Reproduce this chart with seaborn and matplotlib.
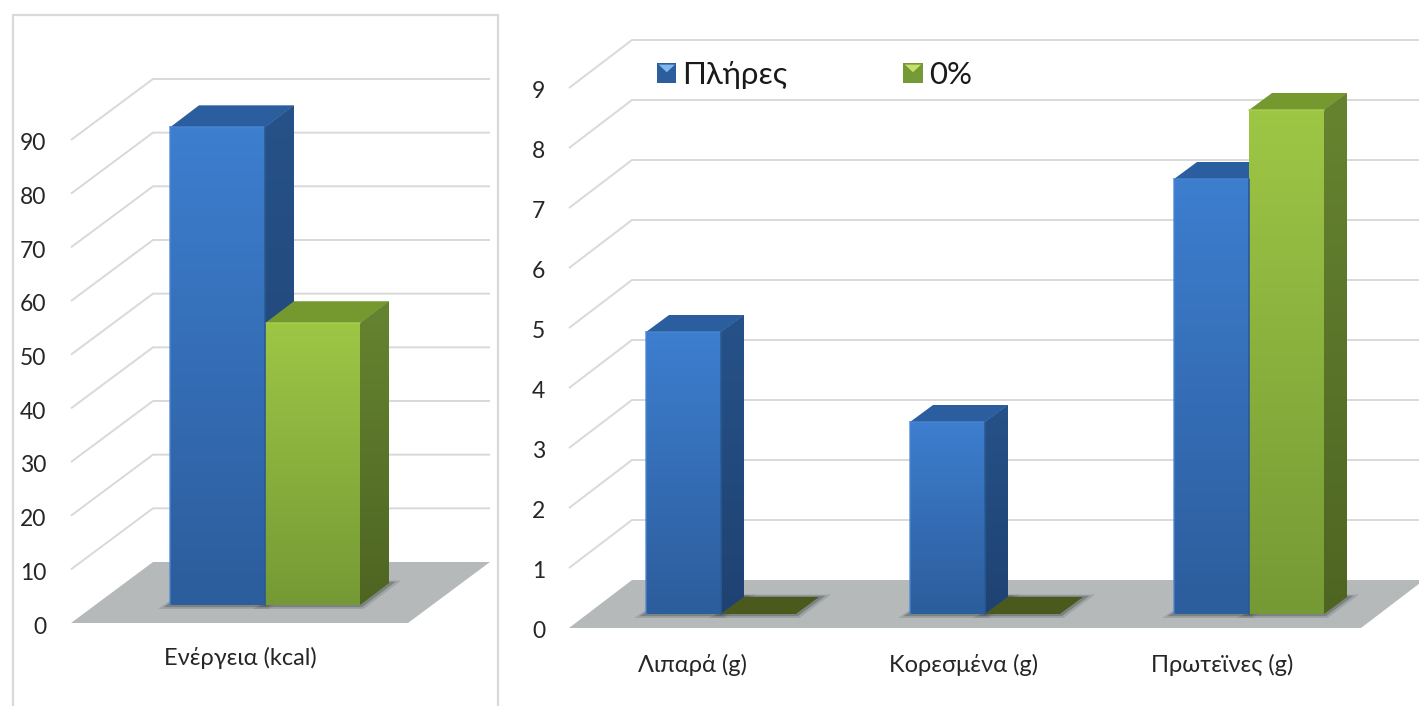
import numpy as np
import pandas as pd
import matplotlib
matplotlib.use("Agg")
import matplotlib.pyplot as plt
from matplotlib.colors import LinearSegmentedColormap
from matplotlib.legend_handler import HandlerPatch
from matplotlib.lines import Line2D
from matplotlib.patches import Patch, Polygon
import seaborn as sns

# Nutrition values per serving, full-fat milk against 0% fat
series_names = ["Πλήρες", "0%"]
energy_categories = ["Ενέργεια (kcal)"]
energy_full = [89.0]
energy_zero = [52.5]
energy_ticks = [0, 10, 20, 30, 40, 50, 60, 70, 80, 90]
nutrient_categories = ["Λιπαρά (g)", "Κορεσμένα (g)", "Πρωτεϊνες (g)"]
nutrient_full = [4.7, 3.2, 7.25]
nutrient_zero = [0.0, 0.0, 8.4]
nutrient_ticks = [0, 1, 2, 3, 4, 5, 6, 7, 8, 9]

W, H = 1419, 706
GRID = "#d9d9d9"
FLOOR = "#b5b9ba"
TEXT = "#262626"
FONT = ["Lato", "Open Sans", "DejaVu Sans"]

# Shades per series: front top/bottom, side top/bottom, top cap, edge
SHADES = {
    "Πλήρες": dict(base="#3672ba", front=("#3d7ecf", "#2c5d9c"), side=("#265289", "#1f4272"),
                   cap="#2b5e9e", edge="#4a86d2"),
    "0%": dict(base="#88ad3d", front=("#9ec645", "#759a35"), side=("#668430", "#4e6522"),
               cap="#76992f", edge="#abd052"),
}

sns.set_theme(style="white")
plt.rcParams["font.family"] = FONT
fig = plt.figure(figsize=(W / 100, H / 100), dpi=100, facecolor="white")


def gradient(ax, clip, colors, x0, x1, y0, y1, z):
    """Fill a patch with a vertical two-colour ramp, first colour at the top."""
    cmap = LinearSegmentedColormap.from_list("ramp", colors)
    img = ax.imshow(np.linspace(0, 1, 128)[:, None], cmap=cmap, aspect="auto",
                    extent=(x0, x1, y0, y1), origin="upper", zorder=z, interpolation="bilinear")
    img.set_clip_path(clip)


def panel(box, categories, full, zero, ticks, width, origin, spacing, base, unit, depth, floor, tick_px, label_shifts, label_pad):
    left, top, right, bottom = box
    ax = fig.add_axes([left / W, 1 - bottom / H, (right - left) / W, (bottom - top) / H])
    frame = pd.DataFrame({
        "category": list(categories) * 2,
        "value": list(full) + list(zero),
        "series": [series_names[0]] * len(categories) + [series_names[1]] * len(categories),
    })
    sns.barplot(data=frame, x="category", y="value", hue="series", ax=ax, width=width, gap=0,
                saturation=1, legend=False,
                palette={name: SHADES[name]["base"] for name in series_names})

    xlim = ((left - origin) / spacing, (right - origin) / spacing)
    ylim = ((base - bottom) / unit, (base - top) / unit)
    dx, dy = depth[0] / spacing, depth[1] / unit

    # Floor and wall grid sit behind the bars
    fx0, fx1, bx0, bx1, front_px, back_px = floor
    to_x = lambda px: (px - origin) / spacing
    front_v, back_v = -(front_px - base) / unit, (base - back_px) / unit
    ax.add_patch(Polygon([(to_x(fx0), front_v), (to_x(fx1), front_v), (to_x(bx1), back_v), (to_x(bx0), back_v)],
                         closed=True, fc=FLOOR, ec="none", zorder=1))
    for v in ticks[1:]:
        ax.plot([to_x(fx0), to_x(bx0), to_x(bx1)], [v + front_v, v + back_v, v + back_v],
                color=GRID, lw=1.4, zorder=1.5, solid_capstyle="butt", clip_on=True)

    for s, (name, bars) in enumerate(zip(series_names, ax.containers)):
        shade = SHADES[name]
        for bar in bars:
            x0, w, h = bar.get_x(), bar.get_width(), bar.get_height()
            x1 = x0 + w
            z = 3 + s * 2 + x0 * 0.01
            # Soft contact shadow around the footprint
            for grow, alpha in ((1.0, 0.2), (0.55, 0.4)):
                gx, gy = grow * 12 / spacing, grow * 4 / unit
                ax.add_patch(Polygon([(x0 - gx, -gy), (x1 + gx * 0.3, -gy), (x1 + dx + gx, dy + gy * 0.6), (x0 + dx, dy + gy * 0.6)],
                                     closed=True, fc="#4b5052", ec="none", alpha=alpha, zorder=2))
            cap = Polygon([(x0, h), (x1, h), (x1 + dx, h + dy), (x0 + dx, h + dy)], closed=True,
                          fc=shade["cap"] if h > 0 else "#4a5a1c", ec="none", zorder=z)
            ax.add_patch(cap)
            if h > 0:
                side = Polygon([(x1, 0), (x1 + dx, dy), (x1 + dx, h + dy), (x1, h)], closed=True,
                               fc=shade["side"][0], ec="none", zorder=z)
                ax.add_patch(side)
                gradient(ax, side, shade["side"], x1, x1 + dx, 0, h + dy, z + 0.01)
                bar.set_zorder(z + 0.02)
                bar.set_edgecolor("none")
                gradient(ax, bar, shade["front"], x0, x1, 0, h, z + 0.03)
                # Thin highlight along the bevelled top of the front face
                ax.plot([x0, x1], [h, h], color=shade["edge"], lw=1.2, zorder=z + 0.04, alpha=0.8)
                if s == 0:
                    ax.plot([x0, x0], [0, h], color=shade["edge"], lw=1.2, zorder=z + 0.04, alpha=0.8)
                    # Darker seam where the first series meets its neighbour
                    ax.plot([x1, x1], [0, h], color="#2a5a94", lw=1.2, zorder=9)
            else:
                bar.set_visible(False)

    ax.set_xlim(xlim)
    ax.set_ylim(ylim)
    ax.set_xlabel("")
    ax.set_ylabel("")
    for spine in ax.spines.values():
        spine.set_visible(False)
    ax.patch.set_alpha(0)

    # Value labels follow the front edge of the floor, category labels its centre line
    ax.set_yticks([v - (tick_px - base) / unit for v in ticks], labels=[str(v) for v in ticks])
    ax.set_xticks([i + shift / spacing for i, shift in enumerate(label_shifts)], labels=categories)
    ax.tick_params(axis="y", length=0, pad=4, labelsize=16.5, labelcolor=TEXT)
    ax.tick_params(axis="x", length=0, pad=label_pad, labelsize=17, labelcolor=TEXT)
    ax.grid(False)
    return ax


panel((52, 15, 497, 640), energy_categories, energy_full, energy_zero, energy_ticks,
      width=0.8, origin=265, spacing=237.5, base=605, unit=5.367, depth=(29, 22),
      floor=(71, 408, 153, 490, 623, 562), tick_px=625, label_shifts=[-25], label_pad=5)

right_ax = panel((551, 0, W, 650), nutrient_categories, nutrient_full, nutrient_zero, nutrient_ticks,
                 width=0.568, origin=721, spacing=264, base=614, unit=60, depth=(23, 17),
                 floor=(569, 1361, 632, 1424, 628, 580), tick_px=629.5, label_shifts=[-28, -21, -27], label_pad=3)


class BevelHandler(HandlerPatch):
    """Legend key shaped like a small bevelled tile."""

    def create_artists(self, legend, orig, xd, yd, width, height, fontsize, trans):
        shade = SHADES[orig.get_label()]
        x0, y0 = -xd, -yd
        x1, y1 = x0 + width, y0 + height
        cx, cy = (x0 + x1) / 2, y0 + height * 0.55
        tile = Polygon([(x0, y0), (x1, y0), (x1, y1), (x0, y1)], closed=True, fc=shade["front"][1], ec="none", transform=trans)
        glow = "#7fb8ee" if orig.get_label() == series_names[0] else "#c6e06a"
        bevel = Polygon([(x0 + 1, y1 - 1), (x1 - 1, y1 - 1), (cx, cy)], closed=True, fc=glow, ec="none", transform=trans)
        return [tile, bevel]


keys = [Patch(fc=SHADES[name]["base"], label=name) for name in series_names]
right_ax.legend(handles=keys, handler_map={Patch: BevelHandler()}, ncol=2, frameon=False,
                loc="upper left", bbox_to_anchor=(651 / W, 1 - 55 / H), bbox_transform=fig.transFigure,
                fontsize=22.5, handlelength=0.61, handleheight=0.61, handletextpad=0.2,
                columnspacing=3.7, labelcolor="#1a1a1a", borderpad=0.2, borderaxespad=0)

# Light frame around the energy panel, open at the bottom of the page
fig.add_artist(Line2D([13 / W, 13 / W, 498 / W, 498 / W], [0, 1 - 15 / H, 1 - 15 / H, 0],
                      transform=fig.transFigure, color=GRID, lw=1.6, solid_joinstyle="miter"))

fig.savefig("out.png", dpi=100)
